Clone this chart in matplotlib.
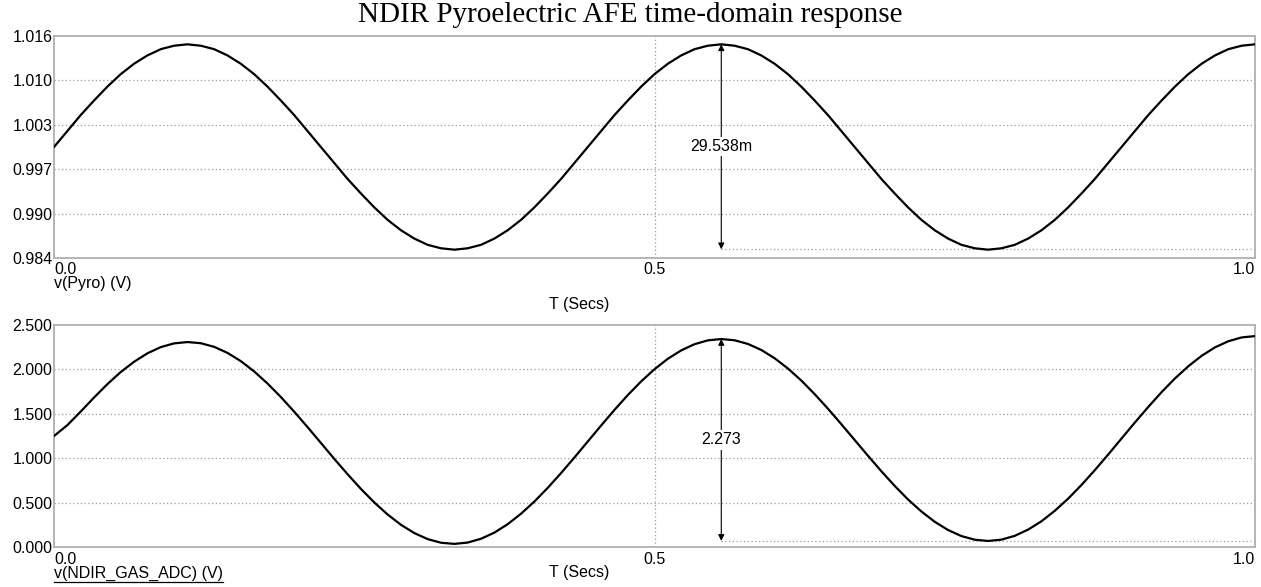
import numpy as np
import matplotlib
matplotlib.use("Agg")
import matplotlib.pyplot as plt
from matplotlib.lines import Line2D

# time axis (s), sampled every 1/90 s
t = np.arange(91) / 90.0

# v(Pyro) (V)
v_pyro = [
    1.0000, 1.0023, 1.0046, 1.0067, 1.0087, 1.0105, 1.0120, 1.0132, 1.0141, 1.0146,
    1.0148, 1.0146, 1.0141, 1.0132, 1.0120, 1.0105, 1.0087, 1.0067, 1.0046, 1.0023,
    1.0000, 0.9977, 0.9954, 0.9933, 0.9913, 0.9895, 0.9880, 0.9868, 0.9859, 0.9854,
    0.9852, 0.9854, 0.9859, 0.9868, 0.9880, 0.9895, 0.9913, 0.9933, 0.9954, 0.9977,
    1.0000, 1.0023, 1.0046, 1.0067, 1.0087, 1.0105, 1.0120, 1.0132, 1.0141, 1.0146,
    1.0148, 1.0146, 1.0141, 1.0132, 1.0120, 1.0105, 1.0087, 1.0067, 1.0046, 1.0023,
    1.0000, 0.9977, 0.9954, 0.9933, 0.9913, 0.9895, 0.9880, 0.9868, 0.9859, 0.9854,
    0.9852, 0.9854, 0.9859, 0.9868, 0.9880, 0.9895, 0.9913, 0.9933, 0.9954, 0.9977,
    1.0000, 1.0023, 1.0046, 1.0067, 1.0087, 1.0105, 1.0120, 1.0132, 1.0141, 1.0146,
    1.0148,
]

# v(NDIR_GAS_ADC) (V)
v_adc = [
    1.250, 1.372, 1.525, 1.683, 1.834, 1.970, 2.086, 2.181, 2.251, 2.293,
    2.308, 2.295, 2.254, 2.186, 2.093, 1.977, 1.841, 1.689, 1.524, 1.350,
    1.172, 0.993, 0.820, 0.654, 0.502, 0.366, 0.250, 0.157, 0.089, 0.048,
    0.035, 0.050, 0.093, 0.162, 0.257, 0.375, 0.512, 0.666, 0.833, 1.008,
    1.188, 1.368, 1.544, 1.711, 1.865, 2.002, 2.120, 2.214, 2.284, 2.327,
    2.342, 2.328, 2.287, 2.219, 2.126, 2.010, 1.875, 1.722, 1.557, 1.383,
    1.205, 1.027, 0.853, 0.688, 0.535, 0.400, 0.284, 0.191, 0.123, 0.082,
    0.068, 0.083, 0.126, 0.196, 0.290, 0.408, 0.545, 0.699, 0.866, 1.042,
    1.222, 1.402, 1.577, 1.744, 1.898, 2.035, 2.153, 2.248, 2.317, 2.360,
    2.375,
]

# cursor measurements (time, label)
cursor_t = 0.5556
pyro_label = "29.538m"
adc_label = "2.273"

W, H = 1261, 587
SANS = "Liberation Sans"
GRID = dict(color="#9a9a9a", lw=0.9, ls=(0, (1, 2)))

fig = plt.figure(figsize=(W / 100, H / 100), dpi=100)


def fx(px):
    return px / W


def fy(py):
    return 1 - py / H


def setup_axes(ax, lo, hi):
    ax.set_xlim(0, 1.0)
    ax.set_ylim(lo, hi)
    yt = np.linspace(lo, hi, 6)
    ax.set_yticks(yt)
    ax.set_yticklabels(["%.3f" % v for v in yt], family=SANS, fontsize=11.5)
    ax.set_xticks([0.5])
    ax.set_xticklabels([])
    ax.tick_params(length=0, pad=1)
    for v in yt[1:-1]:
        ax.axhline(v, **GRID, zorder=1)
    ax.axvline(0.5, **GRID, zorder=1)
    for s in ax.spines.values():
        s.set_color("#b0b0b0")
        s.set_linewidth(1.3)


def measure(ax, vals, label):
    i = int(round(cursor_t * 90))
    top, bot = vals[i], vals[i] - float(label.rstrip("m")) / (1000 if label.endswith("m") else 1)
    ax.annotate("", xy=(cursor_t, top), xytext=(cursor_t, bot),
                arrowprops=dict(arrowstyle="<|-|>", color="black", lw=0.8,
                                mutation_scale=9, shrinkA=0, shrinkB=0), zorder=3)
    ax.plot([cursor_t, 1.0], [bot, bot], **GRID, zorder=2)
    ax.text(cursor_t, (top + bot) / 2, label, ha="center", va="center",
            family=SANS, fontsize=11.5, zorder=4,
            bbox=dict(facecolor="white", edgecolor="none", pad=1.5))


ax1 = fig.add_axes([fx(54), fy(258), fx(1255) - fx(54), fy(36) - fy(258)])
setup_axes(ax1, 0.984, 1.016)
ax1.plot(t, v_pyro, color="black", lw=1.6, zorder=3)
measure(ax1, v_pyro, pyro_label)

ax2 = fig.add_axes([fx(54), fy(547), fx(1255) - fx(54), fy(325) - fy(547)])
setup_axes(ax2, 0.0, 2.5)
ax2.plot(t, v_adc, color="black", lw=1.6, zorder=3)
measure(ax2, v_adc, adc_label)

fig.text(0.5, fy(15), "NDIR Pyroelectric AFE time-domain response",
         ha="center", va="center", family="Liberation Serif", fontsize=21)

txt = dict(family=SANS, fontsize=11.5)
for y0, name, ylab in [(262, "v(Pyro) (V)", 304), (552, "v(NDIR_GAS_ADC) (V)", 573)]:
    fig.text(fx(54), fy(y0), "0.0", ha="left", va="top", **txt)
    fig.text(fx(655), fy(y0), "0.5", ha="center", va="top", **txt)
    fig.text(fx(1255), fy(y0), "1.0", ha="right", va="top", **txt)
    lab = fig.text(fx(54), fy(y0 + 14), name, ha="left", va="top", **txt)
    fig.text(fx(579), fy(ylab), "T (Secs)", ha="center", va="center", **txt)

# underline the active trace name
fig.canvas.draw()
bb = lab.get_window_extent(fig.canvas.get_renderer())
fig.add_artist(Line2D([bb.x0 / W, bb.x1 / W], [(bb.y0 - 1) / H] * 2,
                      transform=fig.transFigure, color="black", lw=0.9))

fig.savefig("out.png", dpi=100)
